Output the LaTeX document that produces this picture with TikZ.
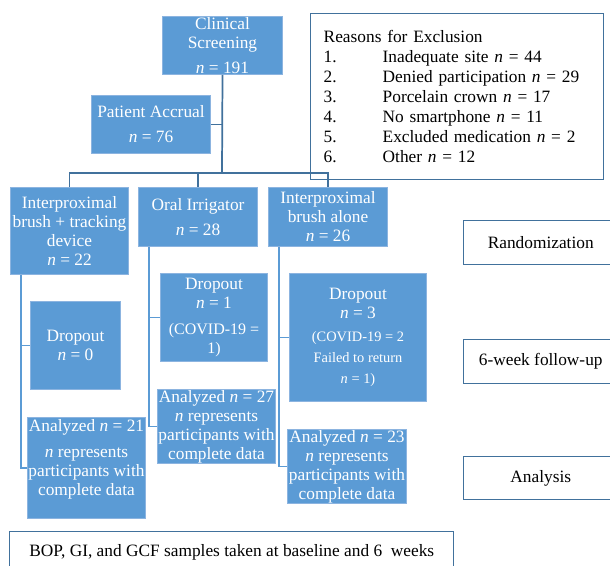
\documentclass[tikz,border=0pt]{standalone}
\usepackage{fontspec}
\setmainfont{Liberation Serif}
\newcommand{\nval}[1]{\textit{n}~=~#1}
\definecolor{boxblue}{HTML}{5B9BD5}
\definecolor{boxedge}{HTML}{8CB4E0}
\definecolor{linkdark}{HTML}{41719C}
\definecolor{linklight}{HTML}{5B9BD5}
\definecolor{frameblue}{HTML}{41719C}

\begin{document}
\begin{tikzpicture}[x=0.75pt, y=-0.75pt,
    font=\fontsize{13}{14.25}\selectfont,
    boxsize/.style 2 args={minimum width=#1*0.75pt, minimum height=#2*0.75pt},
    bluebox/.style={draw=boxedge, line width=0.75pt, fill=boxblue, text=white,
                    align=center, inner sep=0pt, anchor=north west},
    framebox/.style={draw=frameblue, line width=1.1pt, fill=white, text=black,
                     align=center, inner sep=0pt, anchor=north west},
    trunk/.style={draw=linkdark, line width=1.3pt},
    branch/.style={draw=linklight, line width=1.4pt}]

\useasboundingbox (0,0) rectangle (610,566);

% --- Screening and accrual ---
\node[bluebox, boxsize={120}{58}] (screen) at (162,16) {Clinical\\Screening\\[4pt]\nval{191}};
\node[bluebox, boxsize={119}{58}] (accrual) at (91,95) {Patient Accrual\\[4.5pt]\nval{76}};

% --- Exclusion list ---
\node[framebox, boxsize={293}{166}, align=left, text width=267*0.75pt,
      font=\fontsize{13}{15}\selectfont] (exclude) at (310,13)
     {Reasons for Exclusion\\
      \makebox[44.25pt][l]{1.}Inadequate site \nval{44}\\
      \makebox[44.25pt][l]{2.}Denied participation \nval{29}\\
      \makebox[44.25pt][l]{3.}Porcelain crown \nval{17}\\
      \makebox[44.25pt][l]{4.}No smartphone \nval{11}\\
      \makebox[44.25pt][l]{5.}Excluded medication \nval{2}\\
      \makebox[44.25pt][l]{6.}Other \nval{12}};

% --- Study arms ---
\node[bluebox, boxsize={118}{87}] (brushtrack) at (10,187) {Interproximal\\brush + tracking\\device\\\nval{22}};
\node[bluebox, boxsize={119}{59}] (irrigator) at (138,187) {Oral Irrigator\\[4.5pt]\nval{28}};
\node[bluebox, boxsize={119}{59}] (brushonly) at (268,187) {Interproximal\\brush alone\\\nval{26}};

% --- Dropouts ---
\node[bluebox, boxsize={90}{88}] (drop1) at (30,301) {Dropout\\\nval{0}};
\node[bluebox, boxsize={107}{88}] (drop2) at (160,273)
     {Dropout\\\nval{1}\\[5pt]{\fontsize{12}{13.5}\selectfont (COVID-19 =}\\{\fontsize{12}{13.5}\selectfont 1)}};
\node[bluebox, boxsize={137}{128}] (drop3) at (289,273)
     {Dropout\\\nval{3}\\[3.5pt]{\fontsize{10.8}{12}\selectfont (COVID-19 = 2}\\[1.5pt]
      {\fontsize{10.8}{12}\selectfont Failed to return}\\[1.5pt]{\fontsize{10.8}{12}\selectfont \nval{1})}};

% --- Analyzed ---
\node[bluebox, boxsize={118}{101}] (ana1) at (27,417)
     {Analyzed \nval{21}\\[5pt]\textit{n} represents\\participants with\\complete data\\[2pt]\mbox{}};
\node[bluebox, boxsize={118}{74}] (ana2) at (157,389)
     {Analyzed \nval{27}\\\textit{n} represents\\participants with\\complete data};
\node[bluebox, boxsize={119}{74}] (ana3) at (287,429)
     {Analyzed \nval{23}\\\textit{n} represents\\participants with\\complete data};

% --- Stage labels ---
\node[framebox, boxsize={154}{44}] (randomize) at (463,220) {Randomization};
\node[framebox, boxsize={154}{44}] (followup) at (463,339) {6-week follow-up};
\node[framebox, boxsize={154}{43}] (analysis) at (463,456) {Analysis};
\node[framebox, boxsize={444}{42}] (samples) at (9,531) {BOP, GI, and GCF samples taken at baseline and 6\ \ weeks};

% --- Connectors ---
\coordinate (split) at (222,173);
\draw[trunk] (screen.south) -- (split);
\draw[trunk] (accrual.east) -- (accrual.east -| split);
\draw[trunk] (brushtrack.north) |- (split) -| (brushonly.north);
\draw[trunk] (irrigator.north) -- (irrigator.north |- split);

\foreach \arm/\drop/\ana in {brushtrack/drop1/ana1, irrigator/drop2/ana2, brushonly/drop3/ana3} {
    \coordinate (rail-\arm) at ([xshift=11*0.75pt]\arm.south west);
    \draw[branch] (rail-\arm) |- (\ana.west);
    \draw[branch] (\drop.west) -- (\drop.west -| rail-\arm);
}

\end{tikzpicture}
\end{document}
